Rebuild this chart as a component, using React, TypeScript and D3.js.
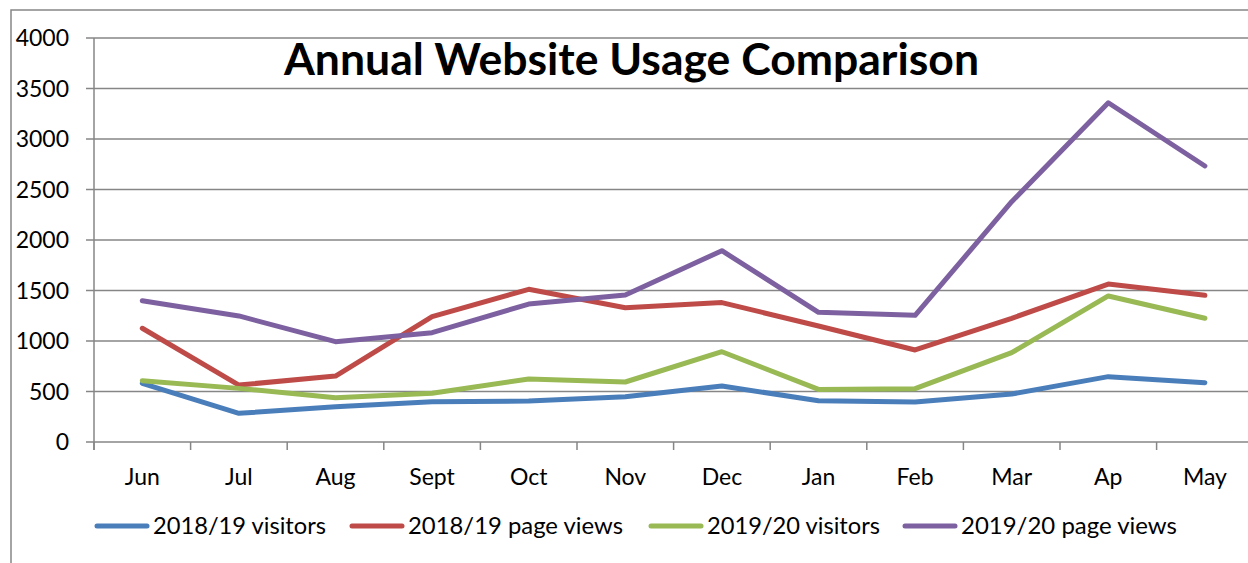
import React from "react";
import * as d3 from "d3";

const months = ["Jun", "Jul", "Aug", "Sept", "Oct", "Nov", "Dec", "Jan", "Feb", "Mar", "Ap", "May"];
const visitors1819 = [581, 284, 350, 399, 406, 449, 554, 409, 396, 475, 647, 587];
const pageViews1819 = [1126, 564, 653, 1241, 1512, 1330, 1380, 1149, 911, 1225, 1564, 1452];
const visitors1920 = [607, 531, 439, 482, 624, 594, 894, 521, 528, 884, 1446, 1225];
const pageViews1920 = [1399, 1248, 993, 1082, 1366, 1455, 1894, 1284, 1254, 2379, 3359, 2733];
const yTicks = [0, 500, 1000, 1500, 2000, 2500, 3000, 3500, 4000];
const seriesNames = ["2018/19 visitors", "2018/19 page views", "2019/20 visitors", "2019/20 page views"];
const seriesColors = ["#4A7EBB", "#BE4B48", "#98B954", "#7D60A0"];
const seriesValues = [visitors1819, pageViews1819, visitors1920, pageViews1920];
const title = "Annual Website Usage Comparison";

const W = 1248;
const H = 563;
const plotLeft = 94;
const plotRight = 94 + 96.6 * 12;
const plotTop = 38;
const plotBottom = 442;
const grid = "#868686";
const font = "Lato, 'Open Sans', sans-serif";

export default function App() {
  const x = d3.scaleBand<string>().domain(months).range([plotLeft, plotRight]).padding(0);
  const y = d3.scaleLinear().domain([0, 4000]).range([plotBottom, plotTop]);
  const cx = (m: string) => (x(m) as number) + x.bandwidth() / 2;
  const line = d3
    .line<number>()
    .x((_, i) => cx(months[i]))
    .y((v) => y(v));

  const legendSwatchX = [95, 350, 649, 903];
  const legendTextW = [173, 215, 173, 216];
  const legendY = 526;

  return (
    <svg
      width={W}
      height={H}
      style={{ position: "absolute", left: 0, top: 0, background: "#fff" }}
      fontFamily={font}
    >
      <rect x={0} y={0} width={W} height={H} fill="#fff" />
      <rect x={11} y={10} width={W + 20} height={H + 20} fill="none" stroke={grid} strokeWidth={1.5} />
      {yTicks.map((t) => (
        <g key={t}>
          <line x1={plotLeft - 8} x2={plotRight} y1={y(t)} y2={y(t)} stroke={grid} strokeWidth={1.5} />
          <text x={69} y={y(t)} dy="0.36em" textAnchor="end" fontSize={23} fill="#000">
            {t}
          </text>
        </g>
      ))}
      <line x1={plotLeft} x2={plotLeft} y1={plotTop} y2={plotBottom + 8} stroke={grid} strokeWidth={1.5} />
      {d3.range(months.length + 1).map((k) => {
        const xx = plotLeft + k * x.bandwidth();
        return <line key={k} x1={xx} x2={xx} y1={plotBottom} y2={plotBottom + 8} stroke={grid} strokeWidth={1.5} />;
      })}
      {months.map((m) => (
        <text key={m} x={cx(m)} y={485} textAnchor="middle" fontSize={23} fill="#000">
          {m}
        </text>
      ))}
      {seriesValues.map((vals, i) => (
        <path
          key={i}
          d={line(vals) as string}
          fill="none"
          stroke={seriesColors[i]}
          strokeWidth={5}
          strokeLinejoin="round"
          strokeLinecap="round"
        />
      ))}
      <text
        x={631.5}
        y={75}
        textAnchor="middle"
        fontSize={44}
        fontWeight="bold"
        fill="#000"
        textLength={695}
        lengthAdjust="spacingAndGlyphs"
      >
        {title}
      </text>
      {seriesNames.map((n, i) => (
        <g key={n}>
          <line
            x1={legendSwatchX[i] + 2}
            x2={legendSwatchX[i] + 52}
            y1={legendY}
            y2={legendY}
            stroke={seriesColors[i]}
            strokeWidth={5}
            strokeLinecap="round"
          />
          <text
            x={legendSwatchX[i] + 58}
            y={legendY + 8}
            fontSize={23}
            fill="#000"
            textLength={legendTextW[i]}
            lengthAdjust="spacingAndGlyphs"
          >
            {n}
          </text>
        </g>
      ))}
    </svg>
  );
}
